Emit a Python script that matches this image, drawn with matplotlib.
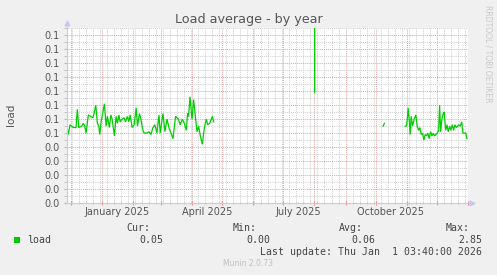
import numpy as np
import matplotlib.pyplot as plt
import matplotlib.dates as mdates
import matplotlib.transforms as mtransforms
from datetime import datetime, timedelta

# munin year graph: 400 days ending at last update
end = datetime(2026, 1, 1, 3, 40)
start = end - timedelta(days=400)

# days after start of graph, load value
seg1_day = [0.0, 1.3, 3.0, 6.3, 9.0, 10.3, 11.7, 14.7, 16.3, 17.7, 19.0, 21.3, 23.7, 25.7, 27.0,
            28.7, 30.3, 31.7, 32.7, 34.0, 35.3, 37.3, 39.0, 40.3, 42.3, 43.7, 45.0, 47.3, 49.0,
            50.3, 51.7, 53.0, 55.0, 57.0, 58.3, 60.3, 61.7, 63.0, 65.0, 67.0, 69.0, 70.3, 72.3,
            73.7, 75.7, 77.0, 79.7, 81.7, 83.7, 85.7, 87.7, 89.7, 91.7, 93.0, 95.7, 97.7, 99.7,
            101.7, 103.7, 105.7, 108.3, 111.0, 113.0, 115.0, 117.0, 119.0, 120.3, 121.3, 122.7,
            124.7, 126.3, 128.0, 129.7, 131.3, 133.0, 135.0, 137.0, 139.0, 140.3, 142.3, 145.0, 146.3]
seg1_load = [0.054, 0.049, 0.056, 0.054, 0.054, 0.067, 0.054, 0.055, 0.057, 0.055, 0.050, 0.063,
             0.062, 0.061, 0.064, 0.070, 0.057, 0.055, 0.049, 0.058, 0.063, 0.071, 0.055, 0.062,
             0.054, 0.063, 0.060, 0.048, 0.062, 0.057, 0.063, 0.058, 0.060, 0.061, 0.058, 0.062,
             0.058, 0.063, 0.054, 0.056, 0.068, 0.055, 0.064, 0.060, 0.052, 0.050, 0.050, 0.051,
             0.049, 0.054, 0.056, 0.050, 0.063, 0.050, 0.064, 0.051, 0.060, 0.054, 0.050, 0.046,
             0.062, 0.060, 0.056, 0.060, 0.057, 0.052, 0.064, 0.062, 0.076, 0.060, 0.074, 0.062,
             0.051, 0.055, 0.048, 0.042, 0.054, 0.060, 0.056, 0.057, 0.062, 0.058]

spike_day = [247.0, 247.6]
spike_load = [0.079, 2.85]

seg3_day = [315.3, 316.7]
seg3_load = [0.055, 0.057]

seg4_day = [337.3, 338.7, 339.7, 340.3, 341.3, 342.3, 343.3, 344.7, 346.3, 348.0, 349.3, 350.7,
            352.0, 353.3, 354.7, 356.0, 357.3, 358.7, 360.0, 361.3, 362.7, 364.0, 365.3, 366.7,
            368.0, 369.3, 370.7, 371.7, 372.7, 374.0, 375.3, 376.3, 377.7, 379.0, 380.3, 381.7,
            383.0, 384.3, 385.7, 387.0, 388.3, 389.7, 391.0, 392.3, 393.7, 395.0, 396.3, 397.7, 399.0]
seg4_load = [0.055, 0.055, 0.062, 0.068, 0.060, 0.049, 0.062, 0.055, 0.060, 0.063, 0.055, 0.052,
             0.054, 0.049, 0.050, 0.045, 0.049, 0.048, 0.050, 0.046, 0.051, 0.048, 0.050, 0.048,
             0.049, 0.050, 0.052, 0.070, 0.051, 0.060, 0.064, 0.065, 0.052, 0.056, 0.051, 0.055,
             0.052, 0.056, 0.052, 0.056, 0.054, 0.055, 0.056, 0.055, 0.058, 0.050, 0.050, 0.050, 0.046]

ytick_vals = [0.00, 0.01, 0.02, 0.03, 0.04, 0.05, 0.06, 0.07, 0.08, 0.09, 0.10, 0.11, 0.12]
ytick_labels = ["0.0", "0.0", "0.0", "0.0", "0.0", "0.1", "0.1", "0.1", "0.1", "0.1", "0.1", "0.1", "0.1"]
xlabels = ["January 2025", "April 2025", "July 2025", "October 2025"]
xlabel_dates = [datetime(2025, 1, 16), datetime(2025, 4, 16), datetime(2025, 7, 16), datetime(2025, 10, 16)]

stat_names = ["Cur:", "Min:", "Avg:", "Max:"]
stat_vals = ["0.05", "0.00", "0.06", "2.85"]

GREEN = "#00cc00"
AXC = "#c8c8f4"
TXT = "#555555"


def to_dates(days):
    return [start + timedelta(days=d) for d in days]


W, H = 497, 275
fig = plt.figure(figsize=(W / 100, H / 100), dpi=100, facecolor="#f0f0f0")
ax = fig.add_axes([67 / W, 1 - 203 / H, 401 / W, 175 / H], facecolor="white")

for d, v in [(seg1_day, seg1_load), (spike_day, spike_load), (seg3_day, seg3_load), (seg4_day, seg4_load)]:
    ax.plot(to_dates(d), v, color=GREEN, lw=0.9, solid_joinstyle="miter")

ax.set_xlim(start, end)
ax.set_ylim(0, 0.1252)

# grid: red at month starts, grey weekly
m = datetime(2024, 12, 1)
months = []
while m < end:
    months.append(m)
    m = datetime(m.year + (m.month == 12), m.month % 12 + 1, 1)
ax.set_xticks(months)
ax.xaxis.set_minor_locator(mdates.WeekdayLocator(byweekday=mdates.MO))
ax.set_yticks(ytick_vals)
ax.set_yticklabels(ytick_labels)
ax.set_yticks(np.array(ytick_vals) + 0.005, minor=True)

ax.grid(which="major", color="#e8a0a0", linestyle=(0, (1, 1)), lw=0.7)
ax.grid(which="minor", color="#cfcfcf", linestyle=(0, (1, 1)), lw=0.7)
ax.set_axisbelow(True)

ax.tick_params(axis="x", which="major", length=2.5, color="#ee8888", direction="inout", labelbottom=False)
ax.tick_params(axis="x", which="minor", length=1.5, color="#bbbbbb", direction="inout")
ax.tick_params(axis="y", which="both", length=2, color="#bbbbbb", labelsize=7, labelcolor=TXT, pad=3)

for s in ["top", "right"]:
    ax.spines[s].set_visible(False)
for s in ["left", "bottom"]:
    ax.spines[s].set_color(AXC)
    ax.spines[s].set_linewidth(0.8)

# axis arrows
ax.plot([0], [1.03], marker="^", ms=3.5, color=AXC, transform=ax.transAxes, clip_on=False)
ax.plot([0, 0], [1, 1.03], color=AXC, lw=0.8, transform=ax.transAxes, clip_on=False)
ax.plot([1.01], [0], marker=">", ms=3.5, color=AXC, transform=ax.transAxes, clip_on=False)
ax.plot([1, 1.01], [0, 0], color=AXC, lw=0.8, transform=ax.transAxes, clip_on=False)

trans = mtransforms.blended_transform_factory(ax.transData, fig.transFigure)
for lab, dt in zip(xlabels, xlabel_dates):
    ax.text(dt, 1 - 212 / H, lab, transform=trans, ha="center", va="center", fontsize=7, color=TXT)

fig.text(248.5 / W, 1 - 19 / H, "Load average - by year", ha="center", va="center", fontsize=9.2, color=TXT)
fig.text(11 / W, 1 - 115 / H, "load", rotation=90, ha="center", va="center", fontsize=7.5, color=TXT)
fig.text(488 / W, 1 - 5 / H, "RRDTOOL / TOBI OETIKER", rotation=270, ha="center", va="top",
         fontsize=5.5, color="#c8c8c8")

# legend
mono = dict(family="DejaVu Sans Mono", fontsize=7.1, color="#444444", va="center")
fig.patches.append(plt.Rectangle((14 / W, 1 - 243 / H), 6 / W, 6 / H, transform=fig.transFigure,
                                 facecolor=GREEN, edgecolor="none"))
fig.text(27 / W, 1 - 240 / H, "load", ha="left", **mono)
name_x = [150, 257, 363, 470]
val_x = [163, 270, 375, 482]
for n, v, nx, vx in zip(stat_names, stat_vals, name_x, val_x):
    fig.text(nx / W, 1 - 228 / H, n, ha="right", **mono)
    fig.text(vx / W, 1 - 240 / H, v, ha="right", **mono)
fig.text(482 / W, 1 - 252 / H, "Last update: Thu Jan  1 03:40:00 2026", ha="right", **mono)
fig.text(248 / W, 1 - 264 / H, "Munin 2.0.73", ha="center", va="center", fontsize=5.5, color="#c0c0c0")

fig.savefig("out.png", dpi=100, facecolor=fig.get_facecolor())
